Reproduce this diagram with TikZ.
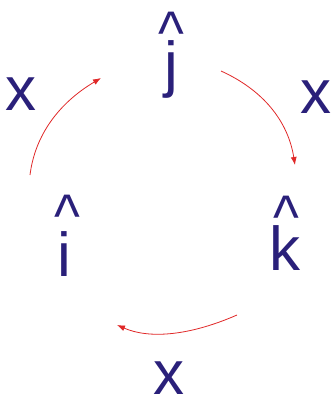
\documentclass[tikz,border=0pt]{standalone}
\usepackage{fontspec}
\setmainfont{Liberation Sans}
\usetikzlibrary{arrows.meta}
\definecolor{vblue}{RGB}{42,32,122}
\definecolor{vred}{RGB}{224,40,40}
\newcommand{\hatglyph}{\scalebox{1}[1.12]{\textasciicircum}}
\tikzset{
  letter/.style={inner sep=0pt, anchor=base, text=vblue, font=\fontsize{62}{62}\selectfont},
  hatmark/.style={inner sep=0pt, anchor=base west, text=vblue, font=\fontsize{55}{55}\selectfont},
  cyc/.style={draw=vred, line width=0.8pt, -{Latex[length=8pt,width=6pt]}}
}
\begin{document}
\begin{tikzpicture}[x=1pt,y=-1pt]
\useasboundingbox (0,0) rectangle (333,396);
% letters
\node[letter] (j) at (171,85) {j};
\node[letter] (i) at (64.5,276) {i};
\node[letter] (k) at (285,270) {k};
\node[letter] (x1) at (21,110) {x};
\node[letter] (x2) at (316,113) {x};
\node[letter] (x3) at (169,394) {x};
% hats
\node[hatmark] (hj) at (158,54.6) {\hatglyph};
\node[hatmark] (hi) at (54,237.6) {\hatglyph};
\node[hatmark] (hk) at (273,238.6) {\hatglyph};
% arrows
\coordinate (a1) at (30,175);
\coordinate (b1) at (101,78);
\coordinate (a2) at (221,71);
\coordinate (b2) at (295,165);
\coordinate (a3) at (237,315);
\coordinate (b3) at (117,325);
\draw[cyc] (a1) .. controls (35,135) and (59,103) .. (b1);
\draw[cyc] (a2) .. controls (263,90) and (288,121) .. (b2);
\draw[cyc] (a3) .. controls (189,336) and (149,339) .. (b3);
\end{tikzpicture}
\end{document}
